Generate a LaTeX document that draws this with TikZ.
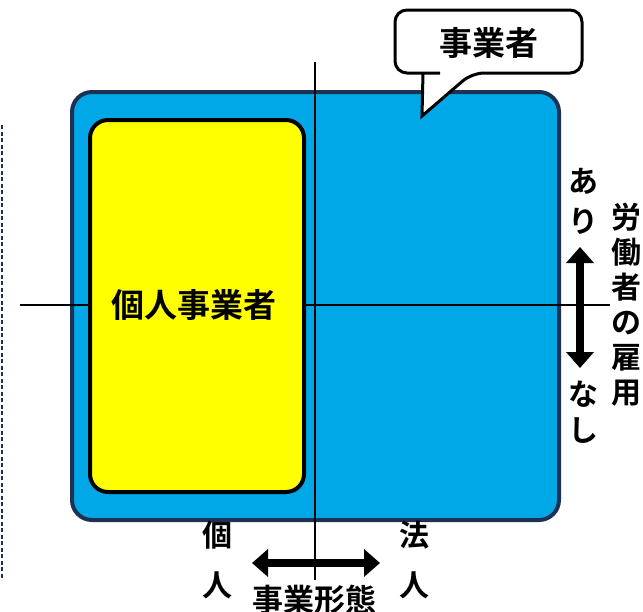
\documentclass[tikz,border=0pt]{standalone}
\usepackage{fontspec}
\setmainfont{Noto Sans CJK JP}[BoldFont={Noto Sans CJK JP Bold}]
\usetikzlibrary{arrows.meta}
\definecolor{bfill}{RGB}{0,168,232}
\definecolor{navy}{RGB}{28,50,82}
\definecolor{yel}{RGB}{255,255,0}
\tikzset{
  outerbox/.style={draw=navy,line width=4pt,fill=bfill,rounded corners=20pt},
  innerbox/.style={draw=black,line width=4pt,fill=yel,rounded corners=18pt},
  axis/.style={draw=black,line width=1.8pt},
  bigarrow/.style={line width=8pt,{Triangle[width=27pt,length=16pt]}-{Triangle[width=27pt,length=16pt]}},
  lbl/.style={font=\bfseries\fontsize{33}{33}\selectfont,inner sep=0pt},
  vlbl/.style={font=\bfseries\fontsize{30}{36}\selectfont,inner sep=0pt,align=center},
  callout/.style={draw=black,line width=3pt,fill=white}
}
\begin{document}
\begin{tikzpicture}[x=1pt,y=-1pt]
\useasboundingbox (0,0) rectangle (643,611);
\draw[navy,line width=2pt,dash pattern=on 4pt off 2.5pt] (2,125) -- (2,580);
\node[outerbox,minimum width=487pt,minimum height=428pt,anchor=north west] (outer) at (70,90) {};
\coordinate (vtop) at (315,62);
\coordinate (vbot) at (315,580);
\coordinate (hl) at (20,305);
\coordinate (hr) at (610,305);
\draw[axis] (vtop) -- (vbot);
\draw[axis] (hl) -- (hr);
\node[innerbox,minimum width=214pt,minimum height=372pt,anchor=north west] (inner) at (88,118) {};
\node[lbl] (kojin) at (194,305) {個人事業者};
\draw[callout,rounded corners=12pt] (440,73) -- (395,73) -- (395,10) -- (582,10) -- (582,73) -- (472,73) [sharp corners] -- (422,116) -- (423,73) -- cycle;
\node[lbl] (jig) at (489,43) {事業者};
\coordinate (atop) at (580,247);
\coordinate (abot) at (580,368);
\draw[bigarrow] (atop) -- (abot);
\node[vlbl,font=\bfseries\fontsize{30}{40}\selectfont] (ari) at (583,201) {あ\\り};
\node[vlbl,font=\bfseries\fontsize{30}{36}\selectfont] (nashi) at (583,412) {な\\し};
\node[vlbl,font=\bfseries\fontsize{30}{35}\selectfont] (koyo) at (626,305) {労\\働\\者\\の\\雇\\用};
\coordinate (aleft) at (252,563);
\coordinate (aright) at (380,563);
\draw[bigarrow] (aleft) -- (aright);
\draw[axis] (315,540) -- (vbot);
\node[vlbl,font=\bfseries\fontsize{30}{50}\selectfont] (kj) at (217,560) {個\\人};
\node[vlbl,font=\bfseries\fontsize{30}{50}\selectfont] (hj) at (414,560) {法\\人};
\node[lbl,font=\bfseries\fontsize{31}{31}\selectfont] (keitai) at (314,600) {事業形態};
\end{tikzpicture}
\end{document}
